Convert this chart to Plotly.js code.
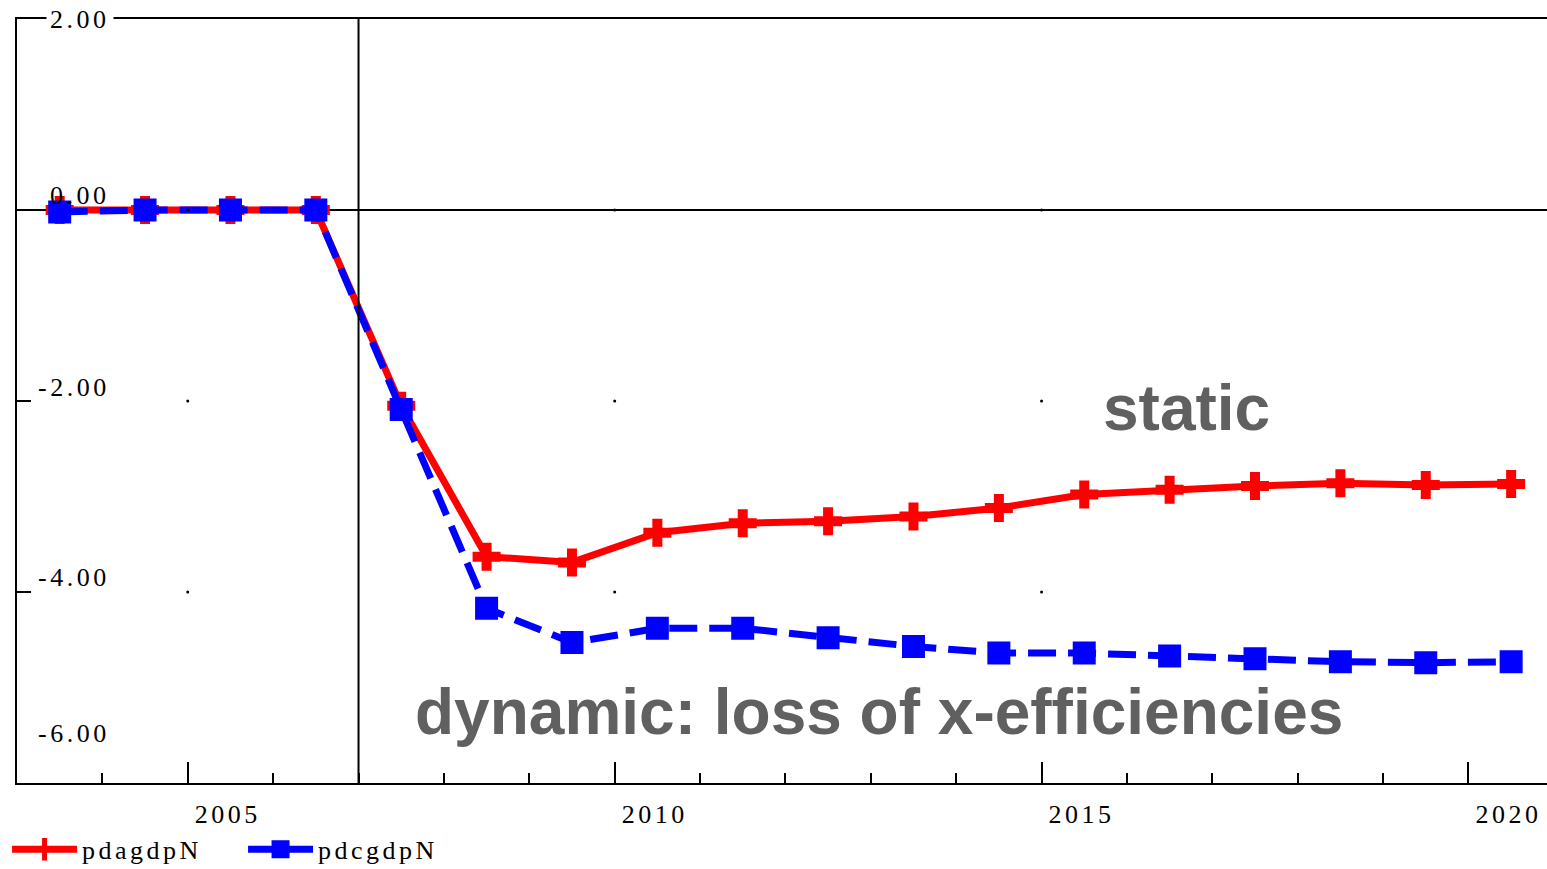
<!DOCTYPE html>
<html>
<head>
<meta charset="utf-8">
<script src="https://cdn.plot.ly/plotly-3.0.1.min.js"></script>
<style>
html, body { margin: 0; padding: 0; background: #ffffff; }
#chart { width: 1547px; height: 869px; }
text[data-unformatted$=".00"], .legendtext, .xtick text { letter-spacing: 3.5px; }
</style>
</head>
<body>
<div id="chart"></div>
<script>
// ---- data ----
const years = [2003, 2004, 2005, 2006, 2007, 2008, 2009, 2010, 2011, 2012,
               2013, 2014, 2015, 2016, 2017, 2018, 2019, 2020];
const pdagdpN = [0.00, 0.00, 0.00, 0.00, -2.05, -3.63, -3.69, -3.38, -3.28, -3.26,
                 -3.21, -3.12, -2.98, -2.93, -2.89, -2.86, -2.88, -2.87];
const pdcgdpN = [-0.02, 0.00, 0.00, 0.00, -2.09, -4.17, -4.53, -4.38, -4.38, -4.48,
                 -4.57, -4.64, -4.64, -4.67, -4.70, -4.73, -4.74, -4.73];
const seriesNames = ['pdagdpN', 'pdcgdpN'];

// ---- axes / labels ----
const xMajorTicks = [2004.5, 2009.5, 2014.5, 2019.5];   // period boundaries
const xTickText = ['2005', '2010', '2015', '2020'];
const yTickVals = [2, 0, -2, -4, -6];
const yTickText = ['2.00', '0.00', '-2.00', '-4.00', '-6.00'];
const yInnerTicks = [0, -2, -4];
const breakPoint = 2006.5;
const noteStatic = 'static';
const noteDynamic = 'dynamic: loss of x-efficiencies';

const serif = 'Liberation Serif, Times New Roman, serif';
const sans = 'Liberation Sans, Arial, sans-serif';

// grid dots at major x ticks and inner y ticks
const dotX = [], dotY = [];
xMajorTicks.slice(0, 3).forEach(x => yInnerTicks.forEach(y => { dotX.push(x); dotY.push(y); }));

const traces = [
  {
    x: years, y: pdagdpN, name: seriesNames[0], type: 'scatter', mode: 'lines+markers',
    line: { color: '#ff0000', width: 7 },
    marker: { symbol: 'cross-thin', size: 20, color: '#ff0000', line: { color: '#ff0000', width: 10 } }
  },
  {
    x: years, y: pdcgdpN, name: seriesNames[1], type: 'scatter', mode: 'lines+markers',
    line: { color: '#0000ff', width: 7, dash: '28px,12px' },
    marker: { symbol: 'square', size: 21, color: '#0000ff', line: { color: '#0000ff', width: 2 } }
  },
  {
    x: dotX, y: dotY, type: 'scatter', mode: 'markers', showlegend: false, hoverinfo: 'skip',
    marker: { size: 3, color: '#000000' }
  }
];

const yLift = [0, 15, 14, 15, 50];
const annotations = yTickVals.map((v, i) => ({
  xref: 'paper', x: 0, xanchor: 'right', xshift: 97,
  yref: 'y', y: v, yanchor: 'middle', yshift: yLift[i],
  text: yTickText[i], showarrow: false, borderpad: 3,
  bgcolor: i === 0 ? '#ffffff' : 'rgba(0,0,0,0)',
  font: { family: serif, size: 26, color: '#000000' }
}));
annotations.push({
  x: 2016.2, y: -2.07, xref: 'x', yref: 'y', text: noteStatic, showarrow: false,
  xanchor: 'center', yanchor: 'middle',
  font: { family: sans, size: 64, color: '#606060', weight: 'bold' }
});
annotations.push({
  x: 2012.6, y: -5.26, xref: 'x', yref: 'y', text: noteDynamic, showarrow: false,
  xanchor: 'center', yanchor: 'middle',
  font: { family: sans, size: 64, color: '#606060', weight: 'bold' }
});

const layout = {
  width: 1547, height: 869,
  margin: { l: 17, r: 0, t: 19, b: 86, pad: 0, autoexpand: false },
  paper_bgcolor: '#ffffff', plot_bgcolor: '#ffffff',
  showlegend: true,
  legend: {
    orientation: 'h', x: -0.0065, xanchor: 'left', y: -0.056, yanchor: 'top',
    font: { family: serif, size: 26, color: '#000000' },
    itemwidth: 65, entrywidth: 156, entrywidthmode: 'pixels',
    bgcolor: 'rgba(0,0,0,0)'
  },
  xaxis: {
    range: [2002.5, 2020.42],
    showgrid: false, zeroline: false,
    showline: true, linecolor: '#000000', linewidth: 2, mirror: true,
    tickmode: 'array', tickvals: xMajorTicks, ticktext: xTickText,
    ticks: 'inside', ticklen: 21, tickwidth: 2, tickcolor: '#000000',
    ticklabelshift: 40, ticklabelstandoff: 7,
    tickfont: { family: serif, size: 26, color: '#000000' },
    minor: { tick0: 2002.5, dtick: 1, ticks: 'inside', ticklen: 10, tickwidth: 2, tickcolor: '#000000', showgrid: false }
  },
  yaxis: {
    range: [-6, 2],
    showgrid: false,
    zeroline: true, zerolinecolor: '#000000', zerolinewidth: 2,
    showline: true, linecolor: '#000000', linewidth: 2,
    tickmode: 'array', tickvals: yInnerTicks,
    ticks: 'inside', ticklen: 14, tickwidth: 2, tickcolor: '#000000',
    showticklabels: false
  },
  yaxis2: {
    overlaying: 'y', side: 'right', range: [-6, 2],
    showgrid: false, zeroline: false, showline: false,
    tickmode: 'array', tickvals: [-2, -4],
    ticks: 'inside', ticklen: 6, tickwidth: 2, tickcolor: '#000000',
    showticklabels: false
  },
  shapes: [{
    type: 'line', xref: 'x', yref: 'paper', x0: breakPoint, x1: breakPoint, y0: 0, y1: 1,
    line: { color: '#000000', width: 2 }
  }],
  annotations: annotations
};

Plotly.newPlot('chart', traces, layout, { displayModeBar: false, staticPlot: true });
</script>
</body>
</html>
